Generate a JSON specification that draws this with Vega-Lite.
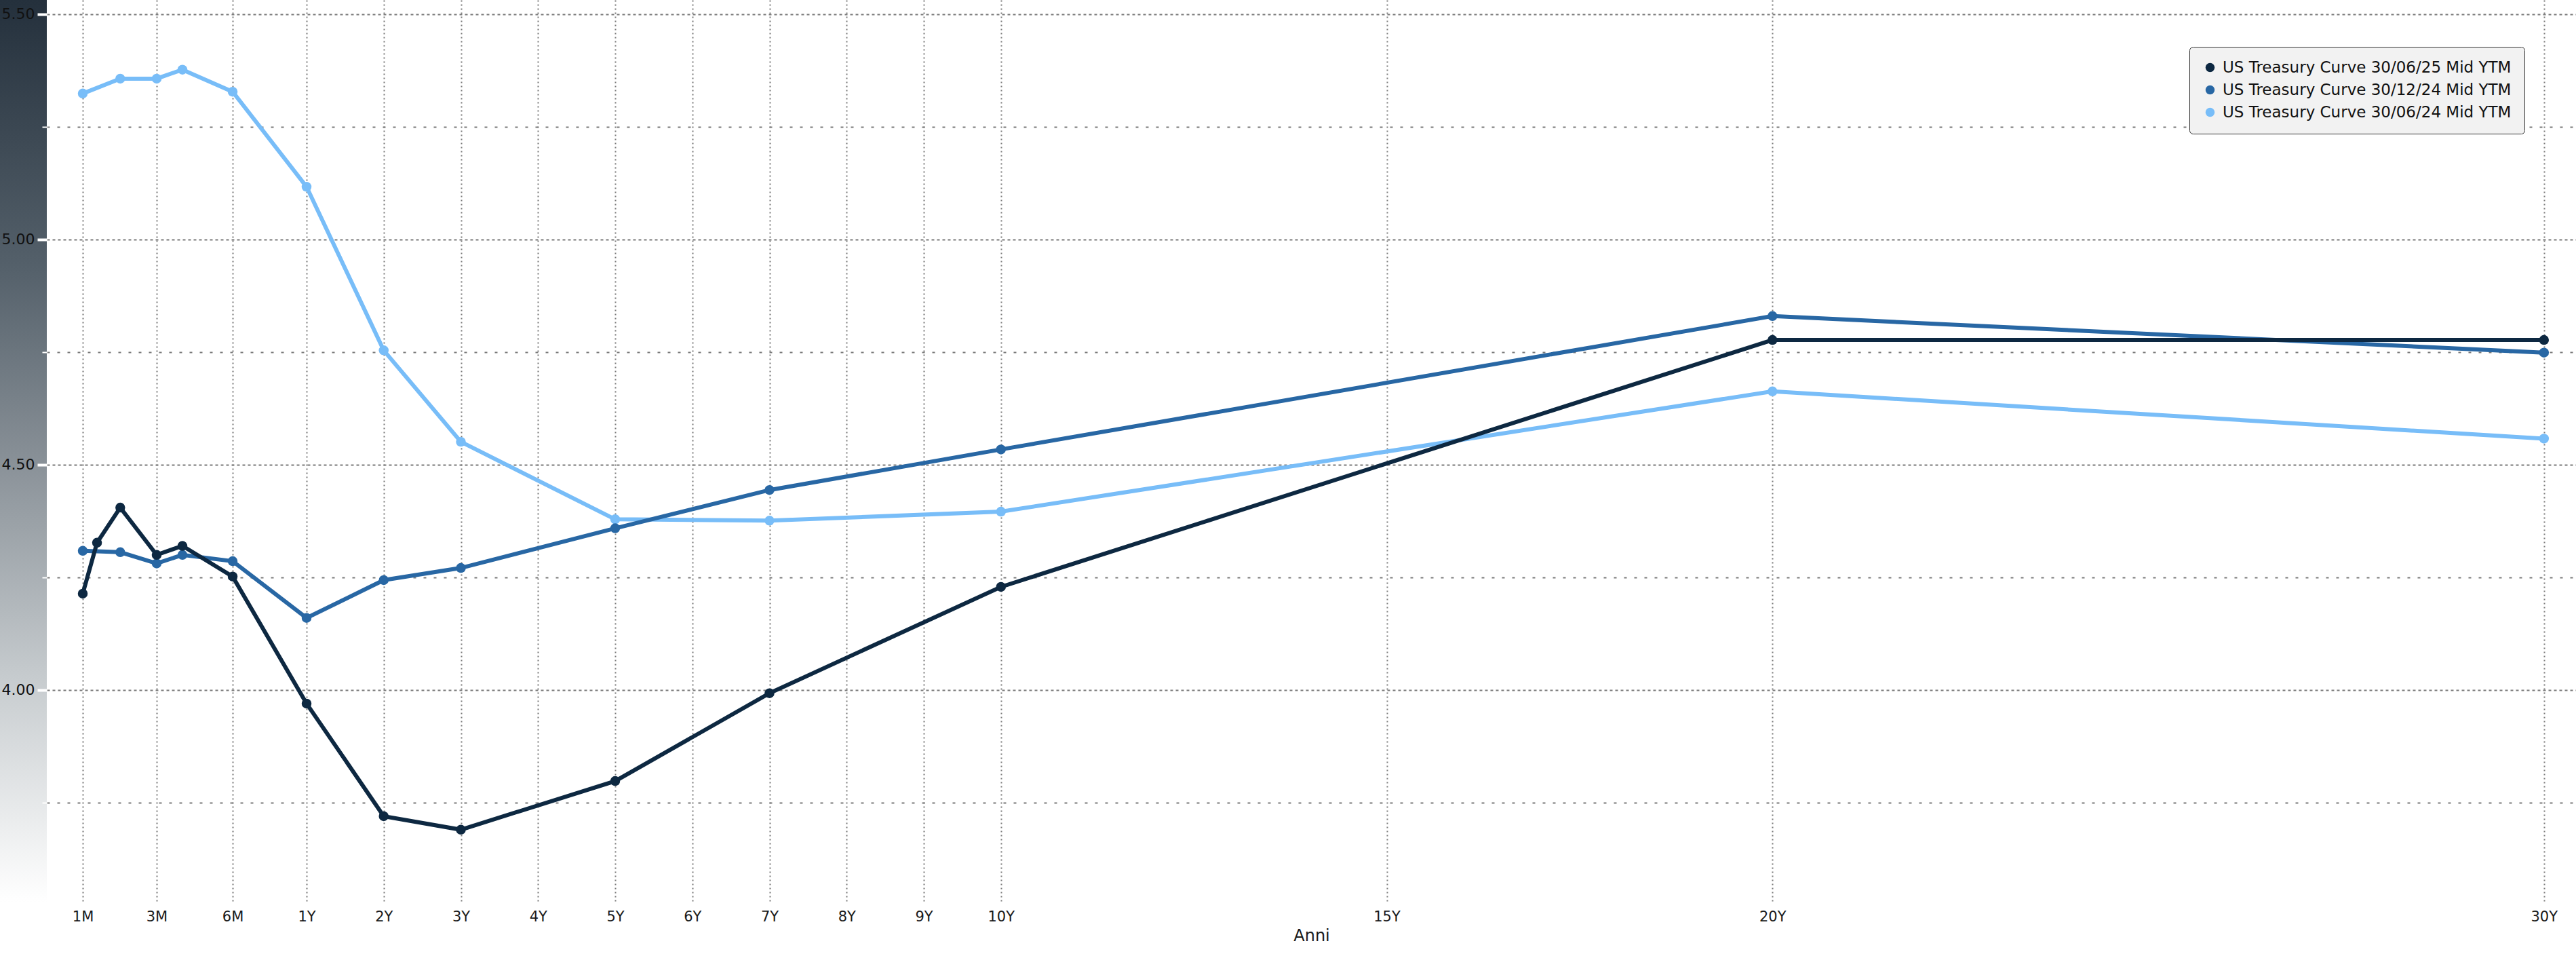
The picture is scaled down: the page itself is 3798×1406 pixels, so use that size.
{
  "$schema": "https://vega.github.io/schema/vega-lite/v6.json",
  "width": 3729,
  "height": 1330,
  "autosize": {"type": "none"},
  "padding": {"left": 69, "top": 0, "right": 0, "bottom": 76},
  "background": "white",
  "config": {"view": {"stroke": null}},
  "data": {
    "values": [
      {"curve": "US Treasury Curve 30/06/24 Mid YTM", "tenor": "1M", "pos": 0.099, "y": 5.324},
      {"curve": "US Treasury Curve 30/06/24 Mid YTM", "tenor": "2M", "pos": 0.585, "y": 5.357},
      {"curve": "US Treasury Curve 30/06/24 Mid YTM", "tenor": "3M", "pos": 1.057, "y": 5.357},
      {"curve": "US Treasury Curve 30/06/24 Mid YTM", "tenor": "4M", "pos": 1.391, "y": 5.377},
      {"curve": "US Treasury Curve 30/06/24 Mid YTM", "tenor": "6M", "pos": 2.042, "y": 5.328},
      {"curve": "US Treasury Curve 30/06/24 Mid YTM", "tenor": "1Y", "pos": 3, "y": 5.117},
      {"curve": "US Treasury Curve 30/06/24 Mid YTM", "tenor": "2Y", "pos": 4, "y": 4.754},
      {"curve": "US Treasury Curve 30/06/24 Mid YTM", "tenor": "3Y", "pos": 5, "y": 4.551},
      {"curve": "US Treasury Curve 30/06/24 Mid YTM", "tenor": "5Y", "pos": 7, "y": 4.379},
      {"curve": "US Treasury Curve 30/06/24 Mid YTM", "tenor": "7Y", "pos": 9, "y": 4.376},
      {"curve": "US Treasury Curve 30/06/24 Mid YTM", "tenor": "10Y", "pos": 12, "y": 4.396},
      {"curve": "US Treasury Curve 30/06/24 Mid YTM", "tenor": "20Y", "pos": 22, "y": 4.663},
      {"curve": "US Treasury Curve 30/06/24 Mid YTM", "tenor": "30Y", "pos": 32, "y": 4.558},
      {"curve": "US Treasury Curve 30/12/24 Mid YTM", "tenor": "1M", "pos": 0.099, "y": 4.309},
      {"curve": "US Treasury Curve 30/12/24 Mid YTM", "tenor": "2M", "pos": 0.585, "y": 4.306},
      {"curve": "US Treasury Curve 30/12/24 Mid YTM", "tenor": "3M", "pos": 1.057, "y": 4.281},
      {"curve": "US Treasury Curve 30/12/24 Mid YTM", "tenor": "4M", "pos": 1.391, "y": 4.300},
      {"curve": "US Treasury Curve 30/12/24 Mid YTM", "tenor": "6M", "pos": 2.042, "y": 4.286},
      {"curve": "US Treasury Curve 30/12/24 Mid YTM", "tenor": "1Y", "pos": 3, "y": 4.160},
      {"curve": "US Treasury Curve 30/12/24 Mid YTM", "tenor": "2Y", "pos": 4, "y": 4.244},
      {"curve": "US Treasury Curve 30/12/24 Mid YTM", "tenor": "3Y", "pos": 5, "y": 4.271},
      {"curve": "US Treasury Curve 30/12/24 Mid YTM", "tenor": "5Y", "pos": 7, "y": 4.359},
      {"curve": "US Treasury Curve 30/12/24 Mid YTM", "tenor": "7Y", "pos": 9, "y": 4.444},
      {"curve": "US Treasury Curve 30/12/24 Mid YTM", "tenor": "10Y", "pos": 12, "y": 4.534},
      {"curve": "US Treasury Curve 30/12/24 Mid YTM", "tenor": "20Y", "pos": 22, "y": 4.830},
      {"curve": "US Treasury Curve 30/12/24 Mid YTM", "tenor": "30Y", "pos": 32, "y": 4.749},
      {"curve": "US Treasury Curve 30/06/25 Mid YTM", "tenor": "1M", "pos": 0.099, "y": 4.214},
      {"curve": "US Treasury Curve 30/06/25 Mid YTM", "tenor": "6W", "pos": 0.284, "y": 4.327},
      {"curve": "US Treasury Curve 30/06/25 Mid YTM", "tenor": "2M", "pos": 0.585, "y": 4.405},
      {"curve": "US Treasury Curve 30/06/25 Mid YTM", "tenor": "3M", "pos": 1.057, "y": 4.300},
      {"curve": "US Treasury Curve 30/06/25 Mid YTM", "tenor": "4M", "pos": 1.391, "y": 4.320},
      {"curve": "US Treasury Curve 30/06/25 Mid YTM", "tenor": "6M", "pos": 2.042, "y": 4.252},
      {"curve": "US Treasury Curve 30/06/25 Mid YTM", "tenor": "1Y", "pos": 3, "y": 3.970},
      {"curve": "US Treasury Curve 30/06/25 Mid YTM", "tenor": "2Y", "pos": 4, "y": 3.720},
      {"curve": "US Treasury Curve 30/06/25 Mid YTM", "tenor": "3Y", "pos": 5, "y": 3.690},
      {"curve": "US Treasury Curve 30/06/25 Mid YTM", "tenor": "5Y", "pos": 7, "y": 3.798},
      {"curve": "US Treasury Curve 30/06/25 Mid YTM", "tenor": "7Y", "pos": 9, "y": 3.993},
      {"curve": "US Treasury Curve 30/06/25 Mid YTM", "tenor": "10Y", "pos": 12, "y": 4.229},
      {"curve": "US Treasury Curve 30/06/25 Mid YTM", "tenor": "20Y", "pos": 22, "y": 4.777},
      {"curve": "US Treasury Curve 30/06/25 Mid YTM", "tenor": "30Y", "pos": 32, "y": 4.777}
    ]
  },
  "layer": [
    {
      "mark": {"type": "line", "strokeWidth": 6, "interpolate": "linear"},
      "encoding": {
        "x": {
          "field": "pos", "type": "quantitative",
          "scale": {"domain": [-0.367, 32.415], "nice": false, "zero": false},
          "axis": {
            "values": [0.099, 1.057, 2.042, 3, 4, 5, 6, 7, 8, 9, 10, 11, 12, 17, 22, 32],
            "labelExpr": "datum.value < 0.5 ? '1M' : datum.value < 1.5 ? '3M' : datum.value < 2.5 ? '6M' : format(datum.value - 2, 'd') + 'Y'",
            "grid": true, "gridColor": "#7a7a7a", "gridDash": [2, 4], "gridWidth": 2,
            "domain": false, "ticks": false, "labelPadding": 10, "labelFlush": false, "labelOverlap": false,
            "labelFont": "DejaVu Sans", "labelFontSize": 21, "labelColor": "#1a1a1a",
            "title": "Anni", "titleFont": "DejaVu Sans", "titleFontSize": 24, "titleFontWeight": "normal",
            "titleColor": "#1a1a1a", "titlePadding": 6
          }
        },
        "y": {
          "field": "y", "type": "quantitative",
          "scale": {"domain": [3.5286, 5.5316], "nice": false, "zero": false},
          "axis": {
            "orient": "left",
            "values": [3.75, 4.0, 4.25, 4.5, 4.75, 5.0, 5.25, 5.5],
            "grid": true, "gridColor": "#7a7a7a", "gridWidth": 2,
            "gridDash": {"condition": {"test": "datum.value % 0.5 == 0", "value": [4, 4]}, "value": [4, 11]},
            "labels": false, "ticks": false, "domain": false, "title": null, "zindex": 0
          }
        },
        "color": {
          "field": "curve", "type": "nominal",
          "scale": {
            "domain": ["US Treasury Curve 30/06/25 Mid YTM", "US Treasury Curve 30/12/24 Mid YTM", "US Treasury Curve 30/06/24 Mid YTM"],
            "range": ["#0d2841", "#2867a4", "#78bdf8"]
          },
          "legend": {
            "orient": "none", "legendX": 3159, "legendY": 69,
            "title": null, "symbolType": "circle", "symbolSize": 180, "symbolStrokeWidth": 0,
            "labelFont": "DejaVu Sans", "labelFontSize": 23, "labelColor": "#111111", "labelLimit": 0,
            "labelOffset": 7, "rowPadding": 9, "padding": 19,
            "fillColor": "#f2f2f2", "strokeColor": "#333333", "cornerRadius": 5
          }
        }
      }
    },
    {
      "mark": {"type": "point", "filled": true, "size": 210, "opacity": 1},
      "encoding": {
        "x": {"field": "pos", "type": "quantitative"},
        "y": {"field": "y", "type": "quantitative", "axis": null},
        "color": {"field": "curve", "type": "nominal"}
      }
    },
    {
      "data": {"values": [{}]},
      "mark": {
        "type": "rect", "clip": false,
        "fill": {
          "gradient": "linear", "x1": 0, "y1": 0, "x2": 0, "y2": 1,
          "stops": [
            {"offset": 0, "color": "#24303c"},
            {"offset": 0.3, "color": "#55616b"},
            {"offset": 0.5, "color": "#868e95"},
            {"offset": 0.75, "color": "#c6cbce"},
            {"offset": 1, "color": "#ffffff"}
          ]
        }
      },
      "encoding": {
        "x": {"datum": -0.974, "type": "quantitative"},
        "x2": {"datum": -0.367},
        "y": {
          "datum": 5.5316, "type": "quantitative",
          "axis": {
            "orient": "left",
            "values": [3.75, 4.0, 4.25, 4.5, 4.75, 5.0, 5.25, 5.5],
            "labelExpr": "datum.value % 0.5 == 0 ? format(datum.value, '.2f') : ''",
            "grid": false, "domain": false,
            "tickColor": "white",
            "tickSize": {"condition": {"test": "datum.value % 0.5 == 0", "value": 14}, "value": 7},
            "tickWidth": {"condition": {"test": "datum.value % 0.5 == 0", "value": 4}, "value": 2},
            "labelPadding": 4, "labelOverlap": false, "labelFlush": false, "labelBound": false,
            "labelFont": "DejaVu Sans", "labelFontSize": 22, "labelColor": "#111111",
            "title": null, "zindex": 1
          }
        },
        "y2": {"datum": 3.5286}
      }
    }
  ],
  "resolve": {"axis": {"y": "independent"}}
}
